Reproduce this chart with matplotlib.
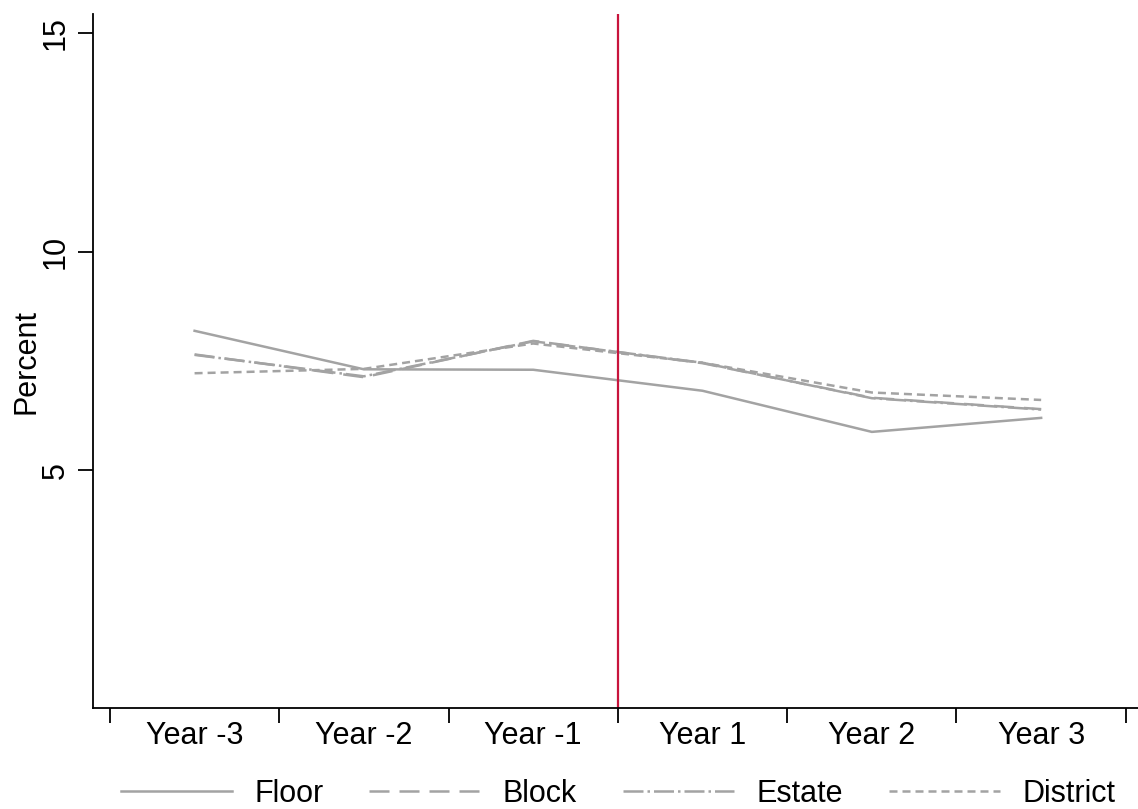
import matplotlib
matplotlib.use("Agg")
import matplotlib.pyplot as plt
import numpy as np

plt.rcParams['font.family'] = ['Liberation Sans', 'DejaVu Sans']

categories = ["Year -3", "Year -2", "Year -1", "Year 1", "Year 2", "Year 3"]
floor = [8.19, 7.31, 7.30, 6.82, 5.88, 6.20]
block = [7.65, 7.13, 7.96, 7.45, 6.66, 6.40]
estate = [7.64, 7.15, 7.95, 7.46, 6.65, 6.39]
district = [7.22, 7.32, 7.90, 7.46, 6.78, 6.61]
series_names = ["Floor", "Block", "Estate", "District"]
event_boundary = 3.5
y_ticks = [5, 10, 15]

FS = 22

fig = plt.figure(figsize=(11.38, 8.09), dpi=100)
ax = fig.add_axes([93/1138, 1 - 708/809, (1138 - 93)/1138, (708 - 14)/809])

x = np.arange(1, len(categories) + 1)
grey = '#a3a3a3'
lw = 1.8
styles = ['-', (0, (8, 4)), (0, (8, 1.6, 1, 1.6)), (0, (3.2, 2))]
for name, vals, ls in zip(series_names, [floor, block, estate, district], styles):
    ax.plot(x, vals, color=grey, lw=lw, linestyle=ls, label=name)

ax.axvline(event_boundary, color='#c8143c', lw=1.6)

ax.set_xlim(0.4, 0.5 + (1138 - 110) / 169.3)
ax.set_ylim(-0.43, 15.43)

ax.set_yticks(y_ticks)
ax.set_yticklabels([str(t) for t in y_ticks], rotation=90, va='center', fontsize=FS)
ax.set_ylabel("Percent", fontsize=FS)
ax.yaxis.label.set_va('center')
ax.yaxis.set_label_coords((23 - 93) / 1045 + 0.003, 0.5)

ax.set_xticks(np.arange(0.5, len(categories) + 1, 1.0))
ax.set_xticklabels([])
ax.set_xticks(x, minor=True)
ax.set_xticklabels(categories, minor=True, fontsize=FS)
ax.tick_params(axis='x', which='minor', length=0, pad=9)
ax.tick_params(axis='x', which='major', length=11, width=1.3, direction='out')
ax.tick_params(axis='y', length=11, width=1.3, direction='out', pad=5)

for s in ['top', 'right']:
    ax.spines[s].set_visible(False)
for s in ['left', 'bottom']:
    ax.spines[s].set_linewidth(1.3)

leg = fig.legend(loc='center', bbox_to_anchor=(618/1138, 1 - 794/809), ncol=4,
                 frameon=False, fontsize=FS, handlelength=3.65, columnspacing=1.5,
                 handletextpad=0.72)

fig.savefig("out.png", dpi=100)
